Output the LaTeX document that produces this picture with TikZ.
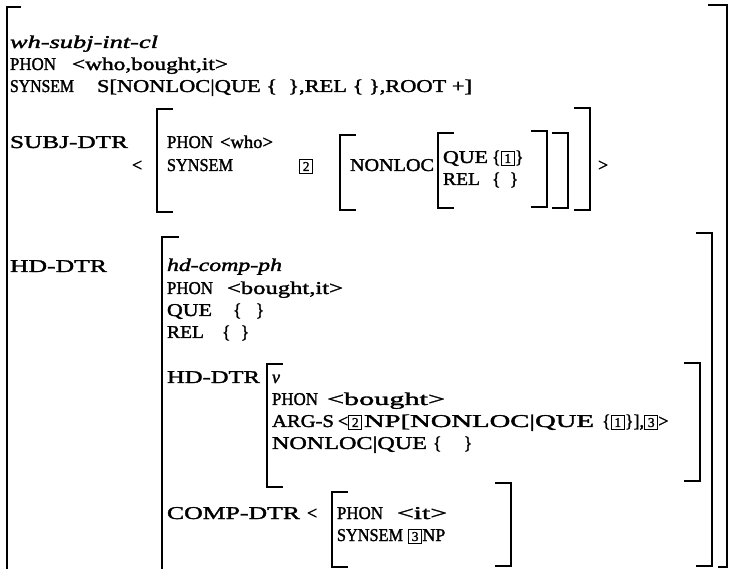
\documentclass[tikz,border=0pt]{standalone}
\usepackage{fontspec}
\setmainfont[FakeBold=1.6]{Liberation Serif}
\usepackage{graphicx}
\newcommand\fw[2]{\resizebox{#1pt}{\height}{#2}}
\newcommand\tg[1]{{\setlength\fboxsep{1.4pt}\setlength\fboxrule{1pt}\fbox{\fontsize{13.5}{13.5}\selectfont\rule[-0.3pt]{0pt}{10.2pt}\makebox[9.5pt]{#1}}}}
\newcommand\LBr[3]{\draw[brk] ({#1+15},#2) -- (#1,#2) -- (#1,#3) -- ({#1+15},#3);}
\newcommand\RBr[3]{\draw[brk] ({#1-15},#2) -- (#1,#2) -- (#1,#3) -- ({#1-15},#3);}
\tikzset{
  txt/.style={anchor=base west,inner sep=0pt,outer sep=0pt},
  brk/.style={line width=1.7pt,line cap=rect,line join=miter}
}
\begin{document}
\begin{tikzpicture}[x=1pt,y=-1pt,font=\fontsize{18}{22}\selectfont]
\useasboundingbox[fill=white] (0,0) rectangle (729,569);
% outer brackets
\draw[brk] (20,7) -- (7,7) -- (7,569);
\draw[brk] (709,5) -- (727,5) -- (727,567) -- (719,567);
% top block
\node[txt] (t1) at (10,48) {\fw{148}{\itshape wh-subj-int-cl}};
\node[txt] (t2a) at (10,70) {\fw{46}{PHON}};
\node[txt] (t2b) at (72,70) {\fw{156}{<who,bought,it>}};
\node[txt] (t3a) at (10,92) {\fw{64}{SYNSEM}};
\node[txt] (t3b) at (97,92) {\fw{375}{S[NONLOC|QUE \{\ \ \},REL \{\ \},ROOT +]}};
% SUBJ-DTR block
\LBr{157}{109}{212}
\RBr{590}{108}{210}
\LBr{340}{135}{210}
\RBr{568}{133}{208}
\LBr{438}{133}{208}
\RBr{547}{131}{207}
\node[txt] (s1) at (10,148) {\fw{118}{SUBJ-DTR}};
\node[txt] (s2a) at (167,148) {\fw{46}{PHON}};
\node[txt] (s2b) at (220,148) {\fw{53}{<who>}};
\node[txt] (s3lt) at (132,171) {<};
\node[txt] (s3a) at (167,171) {\fw{66}{SYNSEM}};
\node[txt] (s3tag) at (299,171) {\tg{2}};
\node[txt] (s3b) at (350,171) {\fw{84}{NONLOC}};
\node[txt] (s4a) at (443,163) {\fw{45}{QUE}};
\node[txt] (s4b) at (492,163) {\{\tg{1}\}};
\node[txt] (s5a) at (443,185) {\fw{37}{REL}};
\node[txt] (s5b) at (492,185) {\{\hspace{9pt}\}};
\node[txt] (s3gt) at (598,171) {>};
% HD-DTR block
\draw[brk] (178,237) -- (162,237) -- (162,569);
\RBr{712}{233}{566}
\node[txt] (h1) at (10,272) {\fw{97}{HD-DTR}};
\node[txt] (h2) at (167,271) {\fw{115}{\itshape hd-comp-ph}};
\node[txt] (h3a) at (167,294) {\fw{46}{PHON}};
\node[txt] (h3b) at (227,294) {\fw{116}{<bought,it>}};
\node[txt] (h4a) at (167,316) {\fw{45}{QUE}};
\node[txt] (h4b) at (233,316) {\{\hspace{14pt}\}};
\node[txt] (h5a) at (167,338) {\fw{37}{REL}};
\node[txt] (h5b) at (222,338) {\{\hspace{10pt}\}};
% inner head daughter
\LBr{267}{364}{487}
\RBr{700}{363}{481}
\node[txt] (v1) at (167,383) {\fw{93}{HD-DTR}};
\node[txt] (v2) at (272,383) {\itshape v};
\node[txt] (v3a) at (272,405) {\fw{46}{PHON}};
\node[txt] (v3b) at (327,405) {\fw{118}{<bought>}};
\node[txt] (v4a) at (272,427) {\fw{62}{ARG-S}};
\node[txt] (v4b) at (338,427) {<\tg{2}};
\node[txt] (v4c) at (364,427) {\fw{230}{NP[NONLOC|QUE}};
\node[txt] (v4d) at (602,427) {\{\tg{1}\}],\tg{3}>};
\node[txt] (v5a) at (272,449) {\fw{155}{NONLOC|QUE}};
\node[txt] (v5b) at (433,449) {\{\hspace{22pt}\}};
% complement daughter
\LBr{332}{492}{567}
\RBr{511}{483}{566}
\node[txt] (c1) at (167,519) {\fw{133}{COMP-DTR}};
\node[txt] (c1b) at (307,519) {<};
\node[txt] (c2a) at (337,519) {\fw{46}{PHON}};
\node[txt] (c2b) at (397,519) {\fw{50}{<it>}};
\node[txt] (c3a) at (337,541) {\fw{66}{SYNSEM}};
\node[txt] (c3b) at (408,541) {\tg{3}NP};
\end{tikzpicture}
\end{document}
